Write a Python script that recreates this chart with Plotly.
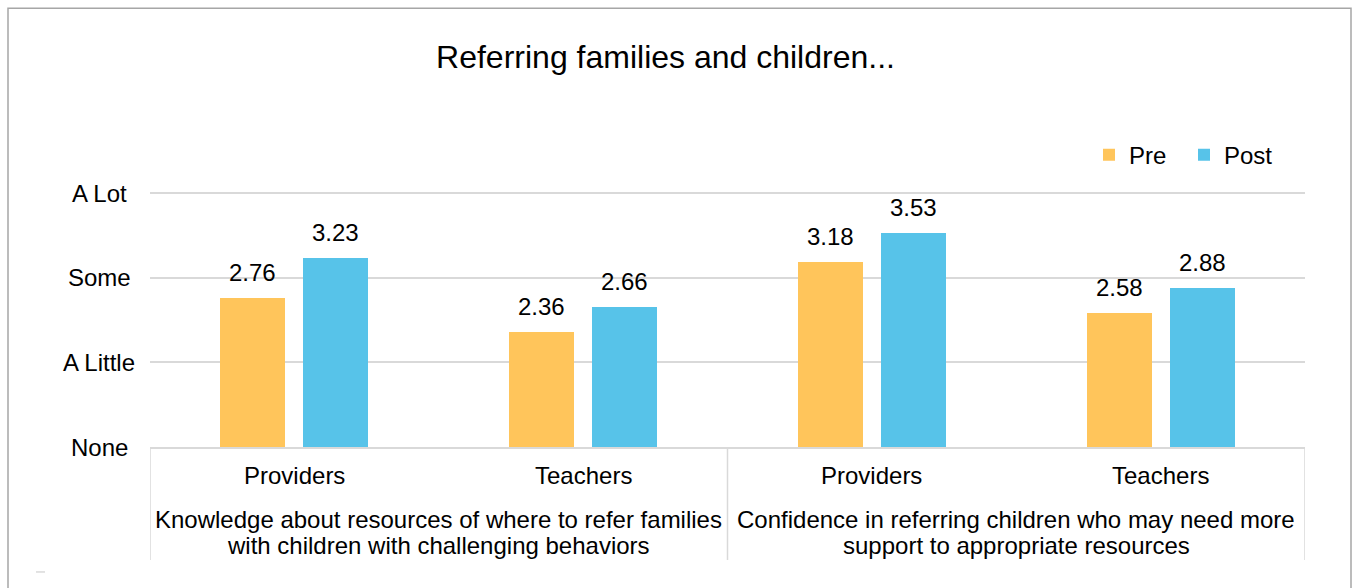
import plotly.graph_objects as go

# ---- data ----
categories = ["Providers", "Teachers", "Providers", "Teachers"]
group_labels = [
    ["Knowledge about resources of where to refer families",
     "with children with challenging behaviors"],
    ["Confidence in referring children who may need more",
     "support to appropriate resources"],
]
pre_values = [2.76, 2.36, 3.18, 2.58]
post_values = [3.23, 2.66, 3.53, 2.88]
level_values = [1, 2, 3, 4]
level_labels = ["None", "A Little", "Some", "A Lot"]

# ---- layout geometry (pixels) ----
W, H = 1353, 588
Y_MIN, Y_MAX = 1, 4.06
L, R, B = 150, 1305, 447
T = B - (B - 193) * (Y_MAX - Y_MIN) / 3  # level 4 lands at y=193


def px(x):
    return (x - L) / (R - L)


def py(y):
    return (B - y) / (B - T)


PRE_COLOR = "#FFC55B"
POST_COLOR = "#57C3E9"
GRID = "#D9D9D9"
FONT = "Liberation Sans, Arial, sans-serif"
FS = 24

BAR_W = 0.225
SHIFT = 0.1437
xs = list(range(len(categories)))

fig = go.Figure()
fig.add_trace(go.Bar(
    x=xs, y=[v - 1 for v in pre_values], base=1, name="Pre",
    marker=dict(color=PRE_COLOR, line=dict(width=0)),
    width=BAR_W, offset=-SHIFT - BAR_W / 2, hoverinfo="skip",
))
fig.add_trace(go.Bar(
    x=xs, y=[v - 1 for v in post_values], base=1, name="Post",
    marker=dict(color=POST_COLOR, line=dict(width=0)),
    width=BAR_W, offset=SHIFT - BAR_W / 2, hoverinfo="skip",
))

annotations = []
# value labels above bars
for vals, sgn in ((pre_values, -1), (post_values, 1)):
    for i, v in enumerate(vals):
        annotations.append(dict(
            x=i + sgn * SHIFT, y=v, xref="x", yref="y", text=f"{v:.2f}",
            showarrow=False, yanchor="bottom", yshift=10,
            font=dict(size=FS, color="black", family=FONT),
        ))
# y level labels
for v, t in zip(level_values, level_labels):
    annotations.append(dict(
        x=px(99), y=v, xref="paper", yref="y", text=t, showarrow=False,
        xanchor="center", yanchor="middle",
        font=dict(size=FS, color="black", family=FONT),
    ))
# category labels
for i, c in enumerate(categories):
    annotations.append(dict(
        x=i, y=py(476), xref="x", yref="paper", text=c, showarrow=False,
        xanchor="center", yanchor="middle",
        font=dict(size=FS, color="black", family=FONT),
    ))
# group labels
for g, lines in enumerate(group_labels):
    for k, line in enumerate(lines):
        annotations.append(dict(
            x=2 * g + 0.5, y=py(520 + 26 * k), xref="x", yref="paper",
            text=line, showarrow=False, xanchor="center", yanchor="middle",
            font=dict(size=FS, color="black", family=FONT),
        ))

shapes = []
# outer frame
shapes.append(dict(
    type="rect", xref="paper", yref="paper",
    x0=px(8), x1=px(1351), y0=py(620), y1=py(8),
    line=dict(color="#A6A6A6", width=1.5), fillcolor="rgba(0,0,0,0)",
))
# category dividers
for xd in (-0.5, 1.5, 3.5):
    shapes.append(dict(
        type="line", xref="x", yref="paper", x0=xd, x1=xd,
        y0=0, y1=py(560), line=dict(color=GRID, width=1.5),
    ))
# small mark at lower left
shapes.append(dict(
    type="line", xref="paper", yref="paper", x0=px(36), x1=px(45),
    y0=py(572), y1=py(572), line=dict(color=GRID, width=1.5),
))

fig.update_layout(
    width=W, height=H,
    margin=dict(l=L, r=W - R, t=T, b=H - B, pad=0, autoexpand=False),
    paper_bgcolor="white", plot_bgcolor="white",
    font=dict(family=FONT, size=FS, color="black"),
    title=dict(
        text="Referring families and children...", x=665.5 / W, xref="container",
        xanchor="center", y=1 - 57 / H, yref="container", yanchor="middle",
        font=dict(size=32, color="black", family=FONT),
    ),
    showlegend=True,
    legend=dict(
        orientation="h", x=px(1089), y=py(155), xanchor="left", yanchor="middle",
        font=dict(size=FS, color="black", family=FONT),
        bgcolor="rgba(0,0,0,0)", traceorder="normal",
        entrywidth=50, entrywidthmode="pixels",
    ),
    xaxis=dict(
        range=[-0.5, 3.5], showticklabels=False, showgrid=False, zeroline=False,
        showline=True, linecolor=GRID, linewidth=1.5, ticks="", fixedrange=True,
    ),
    yaxis=dict(
        range=[Y_MIN, Y_MAX], tickvals=level_values, showticklabels=False,
        showgrid=True, gridcolor=GRID, gridwidth=1.5, zeroline=False,
        showline=False, ticks="", fixedrange=True,
    ),
    bargap=0, barmode="overlay",
    annotations=annotations, shapes=shapes,
)

fig.write_html("out.html", config={"displayModeBar": False})
